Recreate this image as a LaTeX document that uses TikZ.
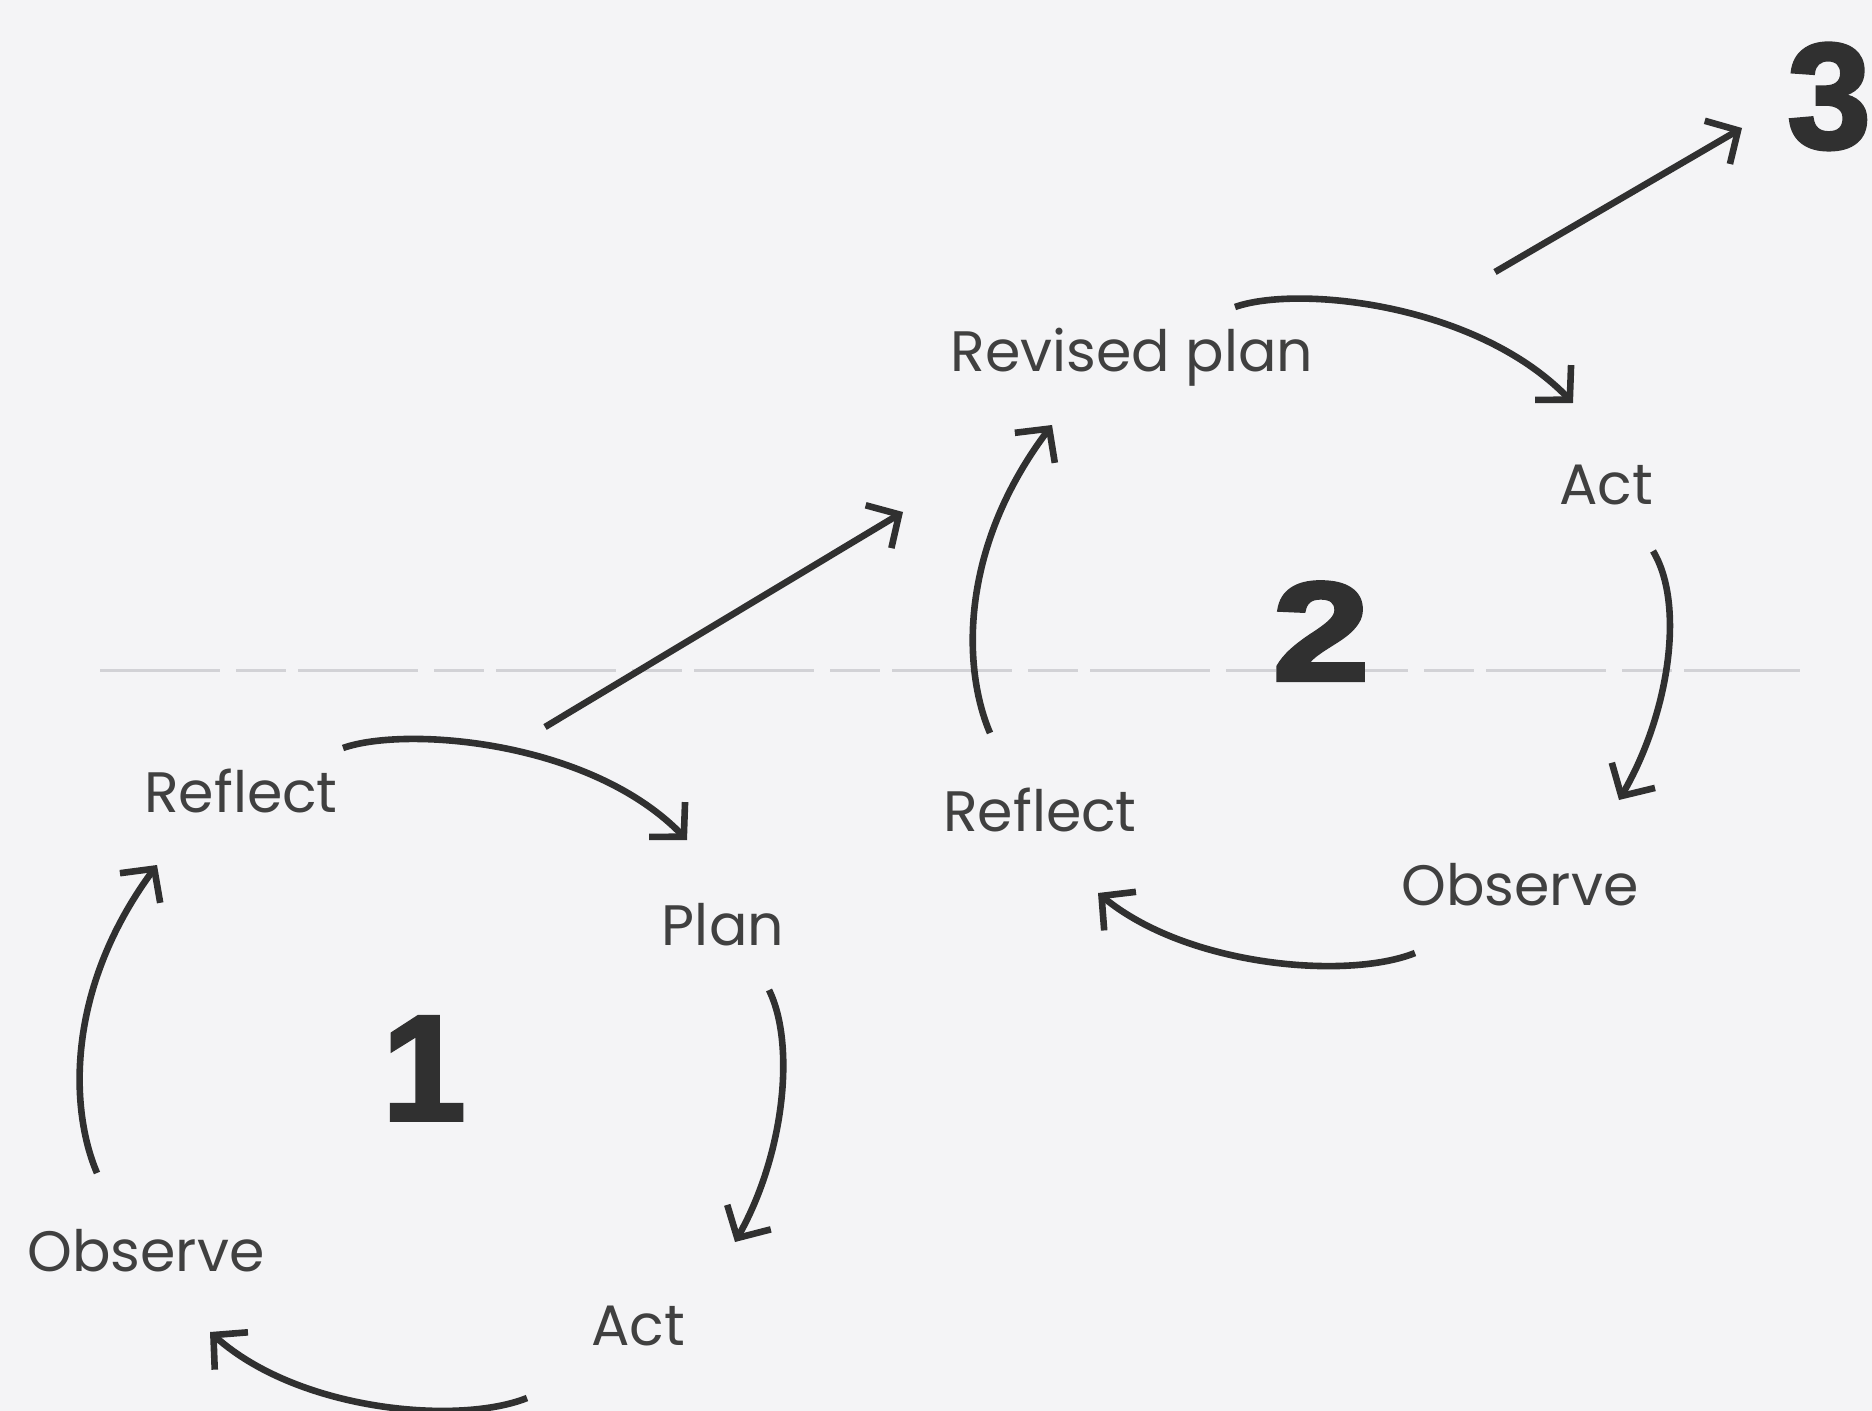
\documentclass[tikz,border=0pt]{standalone}
\usepackage{fontspec}
\usetikzlibrary{arrows.meta}
\newfontfamily\labelfont{Poppins}
\newfontfamily\numfont[FakeBold=2.5]{Liberation Sans Bold}
\newfontfamily\numfontwide[FakeBold=3,FakeStretch=1.25]{Liberation Sans Bold}
\definecolor{bg}{HTML}{F4F4F6}
\definecolor{ink}{HTML}{303030}
\definecolor{txt}{HTML}{404040}
\definecolor{scan}{HTML}{D2D2D6}
\tikzset{
  lbl/.style={anchor=base, inner sep=0pt, text=txt, font=\labelfont\fontsize{28.5}{30}\selectfont},
  num/.style={anchor=base, inner sep=0pt, text=ink, font=\numfont\fontsize{75}{80}\selectfont},
  arr/.style={draw=ink, line width=3.3pt, -{Straight Barb[length=12pt,width=25pt,line width=3.3pt]}}
}
\begin{document}
\begin{tikzpicture}[x=0.5pt,y=-0.5pt]
\fill[bg] (0,0) rectangle (1872,1411);
\useasboundingbox (0,0) rectangle (1872,1411);
% faint scan line
\draw[scan, line width=1.5pt, dash pattern=on 60pt off 8pt on 25pt off 6pt] (100,670) -- (1800,670);

% labels cycle 1
\node[lbl] (reflectA) at (241,812) {Reflect};
\node[lbl] (planA) at (723,945) {Plan};
\node[lbl] (actA) at (638,1345) {Act};
\node[lbl] (observeA) at (146,1271) {Observe};
\node[num] (one) at (424,1120) {1};

% labels cycle 2
\node[lbl] (revised) at (1132,372) {Revised plan};
\node[lbl] (actB) at (1606,504) {Act};
\node[lbl] (reflectB) at (1040,831) {Reflect};
\node[lbl] (observeB) at (1520,905) {Observe};
\node[num, font=\numfontwide\fontsize{70}{74}\selectfont] (two) at (1321,680) {2};
\node[num, anchor=base west] (three) at (1787,148) {3};

% connector end points
\coordinate (a1) at (343,748);  \coordinate (a2) at (687,840);
\coordinate (b1) at (769,990);  \coordinate (b2) at (735,1242);
\coordinate (c1) at (527,1398); \coordinate (c2) at (210,1332);
\coordinate (d1) at (97,1173);  \coordinate (d2) at (157,865);
\coordinate (l1) at (545,727);  \coordinate (l2) at (903,512);
\coordinate (e1) at (1235,307); \coordinate (e2) at (1573,403);
\coordinate (f1) at (1653,551); \coordinate (f2) at (1619,800);
\coordinate (g1) at (1415,953); \coordinate (g2) at (1098,893);
\coordinate (h1) at (990,733);  \coordinate (h2) at (1052,425);
\coordinate (m1) at (1495,272); \coordinate (m2) at (1742,128);

% cycle 1
\draw[arr] (a1) .. controls (405,726) and (590,740) .. (a2);
\draw[arr] (b1) .. controls (796,1045) and (784,1155) .. (b2);
\draw[arr] (c1) .. controls (460,1425) and (300,1412) .. (c2);
\draw[arr] (d1) .. controls (70,1110) and (65,990) .. (d2);
\draw[arr] (l1) -- (l2);

% cycle 2
\draw[arr] (e1) .. controls (1297,285) and (1476,303) .. (e2);
\draw[arr] (f1) .. controls (1686,606) and (1668,716) .. (f2);
\draw[arr] (g1) .. controls (1348,980) and (1188,967) .. (g2);
\draw[arr] (h1) .. controls (963,670) and (958,550) .. (h2);
\draw[arr] (m1) -- (m2);
\end{tikzpicture}
\end{document}
